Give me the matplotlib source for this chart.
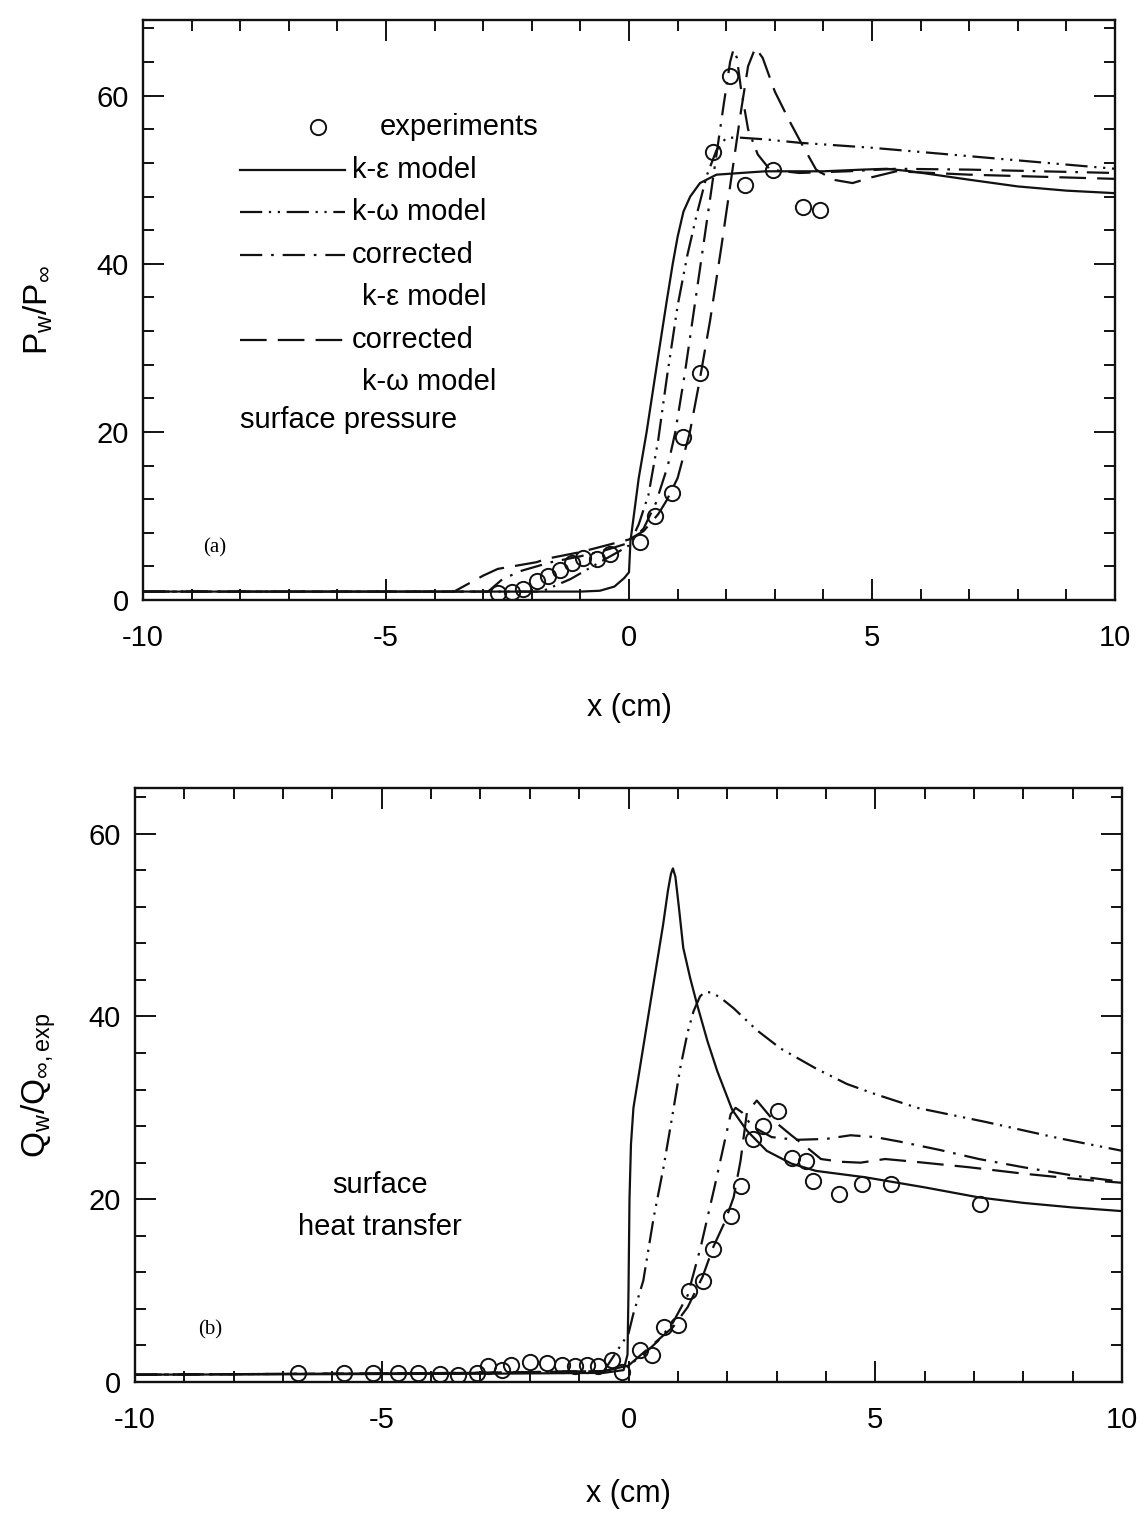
import matplotlib
matplotlib.use("Agg")
import matplotlib.pyplot as plt
from matplotlib.ticker import MultipleLocator

plt.rcParams['font.family'] = ['Liberation Sans', 'DejaVu Sans']
plt.rcParams['mathtext.fontset'] = 'custom'
plt.rcParams['mathtext.rm'] = 'Liberation Sans'
plt.rcParams['mathtext.it'] = 'Liberation Sans'

# ---------------- panel (a): surface pressure ----------------
a_exp_x = [-2.70, -2.41, -2.18, -1.89, -1.67, -1.42, -1.17, -0.95, -0.66, -0.39, 0.23, 0.53,
           0.88, 1.11, 1.46, 1.73, 2.08, 2.39, 2.96, 3.58, 3.93]
a_exp_y = [0.8, 1.0, 1.3, 2.3, 2.9, 3.6, 4.4, 5.0, 4.9, 5.5, 6.9, 10.0,
           12.7, 19.4, 27.0, 53.3, 62.3, 49.4, 51.2, 46.8, 46.4]

a_ke_x = [-10, -1.0, -0.6, -0.3, -0.1, 0.0, 0.03, 0.2, 0.36, 0.6, 0.78, 0.9, 1.0, 1.12, 1.26,
          1.46, 1.8, 2.8, 4.0, 4.8, 5.3, 5.8, 7.0, 8.0, 9.0, 10.0]
a_ke_y = [1.0, 1.0, 1.1, 1.6, 2.6, 3.3, 7.0, 14.5, 19.9, 29.0, 35.7, 40.0, 43.2, 46.2, 48.0,
          49.6, 50.6, 51.0, 51.0, 51.2, 51.3, 51.0, 50.0, 49.2, 48.7, 48.4]

a_kw_x = [-10, -1.8, -1.2, -0.6, -0.2, 0.0, 0.2, 0.4, 0.6, 0.78, 1.0, 1.2, 1.4, 1.6, 1.8,
          2.0, 2.3, 2.8, 3.5, 5.0, 7.0, 10.0]
a_kw_y = [1.0, 1.0, 2.5, 4.5, 5.8, 6.5, 9.0, 12.5, 19.0, 26.5, 35.0, 41.0, 46.0, 50.5, 53.5,
          55.0, 55.0, 54.8, 54.4, 53.8, 52.8, 51.3]

a_cke_x = [-10, -2.9, -2.6, -2.2, -1.6, -1.0, -0.5, 0.0, 0.3, 0.55, 0.8, 0.95, 1.15, 1.35,
           1.55, 1.75, 1.95, 2.08, 2.15, 2.22, 2.3, 2.45, 2.65, 2.9, 3.5, 4.5, 5.5, 7.0, 10.0]
a_cke_y = [1.0, 1.0, 2.5, 3.5, 4.5, 5.2, 5.9, 6.8, 8.5, 11.5, 16.0, 19.9, 27.0, 35.0,
           43.0, 51.0, 59.0, 64.0, 65.5, 64.5, 61.0, 56.0, 53.0, 51.2, 50.8, 51.0, 51.3, 51.2, 50.8]

a_ckw_x = [-10, -3.6, -3.0, -2.7, -1.9, -1.7, -1.0, -0.2, 0.0, 0.3, 0.6, 0.78, 1.0, 1.25,
           1.45, 1.67, 1.9, 2.1, 2.3, 2.45, 2.6, 2.75, 3.0, 3.3, 3.55, 3.85, 4.2, 4.6, 5.0,
           5.5, 7.0, 10.0]
a_ckw_y = [1.0, 1.0, 2.9, 3.7, 4.5, 4.9, 5.7, 6.9, 7.2, 8.2, 10.2, 11.9, 14.5, 19.9,
           26.0, 33.3, 42.0, 50.0, 58.0, 63.5, 65.7, 64.5, 60.5, 57.0, 54.3, 51.2, 50.0, 49.6,
           50.3, 51.0, 50.6, 50.1]

# ---------------- panel (b): surface heat transfer ----------------
b_exp_x = [-6.7, -5.77, -5.17, -4.68, -4.26, -3.82, -3.45, -3.07, -2.85, -2.56, -2.39, -1.99,
           -1.65, -1.35, -1.08, -0.84, -0.61, -0.33, -0.13, 0.23, 0.48, 0.71, 1.01, 1.22, 1.5,
           1.72, 2.07, 2.27, 2.53, 2.72, 3.02, 3.32, 3.59, 3.73, 4.26, 4.74, 5.31, 7.13]
b_exp_y = [1.0, 1.0, 1.0, 1.0, 1.0, 0.9, 0.8, 1.0, 1.8, 1.3, 1.9, 2.2,
           2.1, 1.9, 1.7, 1.9, 1.7, 2.4, 1.1, 3.5, 2.9, 6.0, 6.2, 10.0, 11.1,
           14.6, 18.2, 21.5, 26.6, 28.0, 29.7, 24.5, 24.2, 22.0, 20.6, 21.7, 21.7, 19.5]

b_ke_x = [-10, -3, -0.5, -0.1, -0.02, 0.0, 0.02, 0.05, 0.1, 0.45, 0.7, 0.8, 0.86, 0.9, 0.95,
          1.02, 1.11, 1.25, 1.39, 1.6, 1.8, 2.1, 2.4, 2.8, 3.3, 3.8, 4.8, 6.0, 7.1, 8.0, 9.0, 10.0]
b_ke_y = [0.8, 0.9, 1.0, 1.3, 3.0, 10.0, 20.0, 26.0, 30.0, 41.7, 50.0, 53.8, 55.6, 56.2, 55.3,
          52.0, 47.5, 44.2, 41.3, 37.3, 34.0, 29.8, 27.5, 25.3, 23.9, 23.1, 22.4, 21.3, 20.2, 19.6,
          19.1, 18.7]

b_kw_x = [-10, -3, -0.5, 0.0, 0.1, 0.3, 0.51, 0.71, 0.9, 1.05, 1.2, 1.32, 1.45, 1.55, 1.7,
          1.9, 2.13, 2.6, 3.08, 3.8, 4.43, 5.0, 5.85, 7.2, 8.7, 10.0]
b_kw_y = [0.8, 1.0, 1.2, 5.3, 7.5, 11.1, 18.0, 23.5, 29.5, 34.4, 38.3, 40.6, 42.2, 42.7, 42.6,
          41.9, 40.9, 38.5, 36.5, 34.3, 32.6, 31.5, 30.0, 28.5, 26.7, 25.3]

b_cke_x = [-10, -3, -0.5, 0.0, 0.3, 0.6, 0.9, 1.2, 1.46, 1.75, 2.07, 2.17, 2.3, 2.5, 2.9,
           3.4, 4.0, 4.5, 5.0, 5.5, 6.3, 7.1, 8.0, 9.0, 10.0]
b_cke_y = [0.8, 1.0, 1.2, 1.8, 3.0, 4.5, 6.5, 9.5, 14.7, 21.5, 29.3, 30.0, 29.5, 28.0, 26.8,
           26.5, 26.6, 27.0, 26.8, 26.3, 25.4, 24.4, 23.5, 22.6, 21.9]

b_ckw_x = [-10, -3, -0.5, 0.0, 0.3, 0.6, 0.9, 1.2, 1.5, 1.72, 1.95, 2.13, 2.27, 2.4, 2.6,
           2.94, 3.3, 3.63, 3.9, 4.3, 4.7, 5.2, 5.8, 6.9, 8.0, 9.3, 10.0]
b_ckw_y = [0.8, 1.0, 1.2, 1.8, 3.2, 4.6, 6.0, 8.2, 11.5, 14.8, 17.5, 20.2, 24.2, 29.5, 30.8,
           28.6, 27.0, 25.6, 24.4, 24.1, 24.0, 24.4, 24.1, 23.5, 22.8, 22.1, 21.8]

x_ticks = [-10, -5, 0, 5, 10]
a_yticks = [0, 20, 40, 60]
b_yticks = [0, 20, 40, 60]

legend_labels = ["experiments", "k-\u03b5 model", "k-\u03c9 model", "corrected",
                 "k-\u03b5 model", "corrected", "k-\u03c9 model"]

# ---------------- styles ----------------
LW = 1.6
INK = '#111111'
DASH_KW = (10, 3, 1, 3, 1, 3)      # dash-dot-dot
DASH_CKE = (10, 4, 1.2, 4)         # dash-dot
DASH_CKW = (12, 5)                 # long dash
FS = 21

fig = plt.figure(figsize=(11.46, 15.13), dpi=100)
W, H = 1146, 1513


def make_ax(l, r, t, b):
    return fig.add_axes([l / W, 1 - b / H, (r - l) / W, (b - t) / H])


def style_ax(ax, ymax):
    ax.set_xlim(-10, 10)
    ax.set_ylim(0, ymax)
    ax.set_xticks(x_ticks)
    ax.set_xticklabels([str(v) for v in x_ticks])
    ax.xaxis.set_minor_locator(MultipleLocator(1))
    ax.yaxis.set_minor_locator(MultipleLocator(4))
    ax.tick_params(which='both', direction='in', top=True, right=True, width=1.4, color=INK)
    ax.tick_params(which='major', length=15, labelsize=FS)
    ax.tick_params(which='minor', length=8)
    ax.tick_params(axis='x', which='major', pad=17)
    ax.tick_params(axis='y', which='major', pad=10)
    for s in ax.spines.values():
        s.set_linewidth(1.7)
        s.set_color(INK)


def draw_curves(ax, exp_x, exp_y, ke, kw, cke, ckw):
    ax.plot(ke[0], ke[1], color=INK, lw=LW)
    l, = ax.plot(kw[0], kw[1], color=INK, lw=LW)
    l.set_dashes(DASH_KW)
    l, = ax.plot(cke[0], cke[1], color=INK, lw=LW)
    l.set_dashes(DASH_CKE)
    l, = ax.plot(ckw[0], ckw[1], color=INK, lw=LW)
    l.set_dashes(DASH_CKW)
    ax.plot(exp_x, exp_y, linestyle='none', marker='o', ms=11, mfc='none',
            mec=INK, mew=1.4)


# ---- panel a ----
axa = make_ax(143, 1115, 20, 600)
style_ax(axa, 69)
axa.set_yticks(a_yticks)
draw_curves(axa, a_exp_x, a_exp_y, (a_ke_x, a_ke_y), (a_kw_x, a_kw_y),
            (a_cke_x, a_cke_y), (a_ckw_x, a_ckw_y))
axa.set_xlabel('x (cm)', fontsize=FS + 1, labelpad=30)
axa.set_ylabel(r'$\mathregular{P_w/P_\infty}$', fontsize=24, labelpad=30)


def fx(px):
    return (px - 143) / 972


def fy(py):
    return (600 - py) / 580


tr = axa.transAxes
axa.plot([fx(318)], [fy(127)], transform=tr, marker='o', ms=11, mfc='none', mec=INK, mew=1.4)
axa.text(fx(380), fy(127), legend_labels[0], transform=tr, fontsize=FS, va='center')
rows = [(170, None), (212, DASH_KW), (255, DASH_CKE), (340, DASH_CKW)]
for py, d in rows:
    ln, = axa.plot([fx(240), fx(345)], [fy(py), fy(py)], transform=tr, color=INK, lw=LW)
    if d is not None:
        ln.set_dashes(d)
axa.text(fx(352), fy(170), legend_labels[1], transform=tr, fontsize=FS, va='center')
axa.text(fx(352), fy(212), legend_labels[2], transform=tr, fontsize=FS, va='center')
axa.text(fx(352), fy(255), legend_labels[3], transform=tr, fontsize=FS, va='center')
axa.text(fx(362), fy(297), legend_labels[4], transform=tr, fontsize=FS, va='center')
axa.text(fx(352), fy(340), legend_labels[5], transform=tr, fontsize=FS, va='center')
axa.text(fx(362), fy(382), legend_labels[6], transform=tr, fontsize=FS, va='center')
axa.text(fx(240), fy(420), 'surface pressure', transform=tr, fontsize=FS, va='center')
axa.text(fx(215), fy(548), '(a)', transform=tr, fontsize=15, va='center', ha='center',
         family=['Liberation Serif', 'DejaVu Serif'])

# ---- panel b ----
axb = make_ax(135, 1122, 788, 1382)
style_ax(axb, 65)
axb.set_yticks(b_yticks)
draw_curves(axb, b_exp_x, b_exp_y, (b_ke_x, b_ke_y), (b_kw_x, b_kw_y),
            (b_cke_x, b_cke_y), (b_ckw_x, b_ckw_y))
axb.set_xlabel('x (cm)', fontsize=FS + 1, labelpad=33)
axb.set_ylabel(r'$\mathregular{Q_w/Q_{\infty,exp}}$', fontsize=24, labelpad=22)


def gx(px):
    return (px - 135) / 987


def gy(py):
    return (1382 - py) / 594


trb = axb.transAxes
axb.text(gx(380), gy(1185), 'surface', transform=trb, fontsize=FS, va='center', ha='center')
axb.text(gx(380), gy(1227), 'heat transfer', transform=trb, fontsize=FS, va='center', ha='center')
axb.text(gx(210), gy(1330), '(b)', transform=trb, fontsize=15, va='center', ha='center',
         family=['Liberation Serif', 'DejaVu Serif'])

fig.savefig('out.png', dpi=100, facecolor='white')
